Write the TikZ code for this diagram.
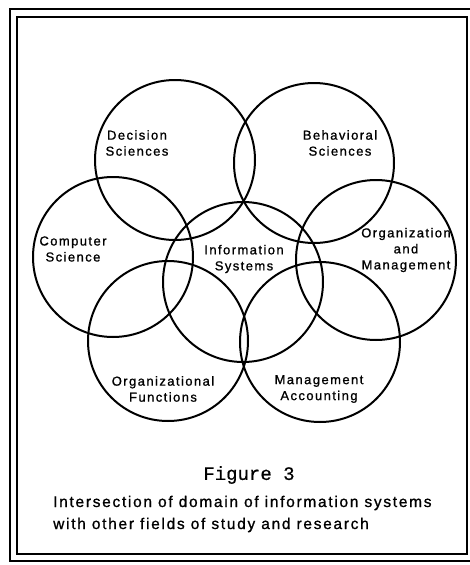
\documentclass[tikz,border=0pt]{standalone}
\usepackage{fontspec}
\setmainfont{Liberation Sans}
\newfontfamily\labelfont[LetterSpace=11,FakeBold=1]{Liberation Sans}
\newfontfamily\figfont[FakeBold=0.5]{Liberation Mono}
\tikzset{
  field/.style={draw, circle, line width=2pt, minimum size=160pt, inner sep=0pt},
  lbl/.style={align=center, font=\labelfont\fontsize{13}{16}\selectfont},
  frame/.style={line width=1.5pt}
}

\begin{document}
\begin{tikzpicture}[x=1pt,y=-1pt]
\useasboundingbox (0,0) rectangle (470,565);

% double frame
\draw[frame] (10,9) rectangle (471,561);
\draw[frame] (17,17) rectangle (467,554);

\node[field] (dec) at (175,160) {};
\node[field] (beh) at (314,163) {};
\node[field] (comp) at (113,257) {};
\node[field] (info) at (243,282) {};
\node[field] (org) at (376,260) {};
\node[field] (func) at (168,341) {};
\node[field] (acc) at (320,342) {};

\node[lbl] (declbl) at (137,143) {Decision\\Sciences};
\node[lbl] (behlbl) at (340,143) {Behavioral\\Sciences};
\node[lbl] (complbl) at (73,249) {Computer\\Science};
\node[lbl] (infolbl) at (244,259) {Information\\Systems};
\node[lbl] (orglbl) at (406,250) {Organization\\and\\Management};
\node[lbl] (funclbl) at (163,389) {Organizational\\Functions};
\node[lbl] (acclbl) at (319,389) {Management\\Accounting};

\node[font=\figfont\fontsize{19}{22}\selectfont] (fig) at (249,475) {Figure 3};
\node[anchor=west, align=left, inner sep=0pt, font=\labelfont\fontsize{15.5}{22}\selectfont] (cap) at (53,514)
  {Intersection of domain of information systems\\with other fields of study and research};

\end{tikzpicture}
\end{document}
